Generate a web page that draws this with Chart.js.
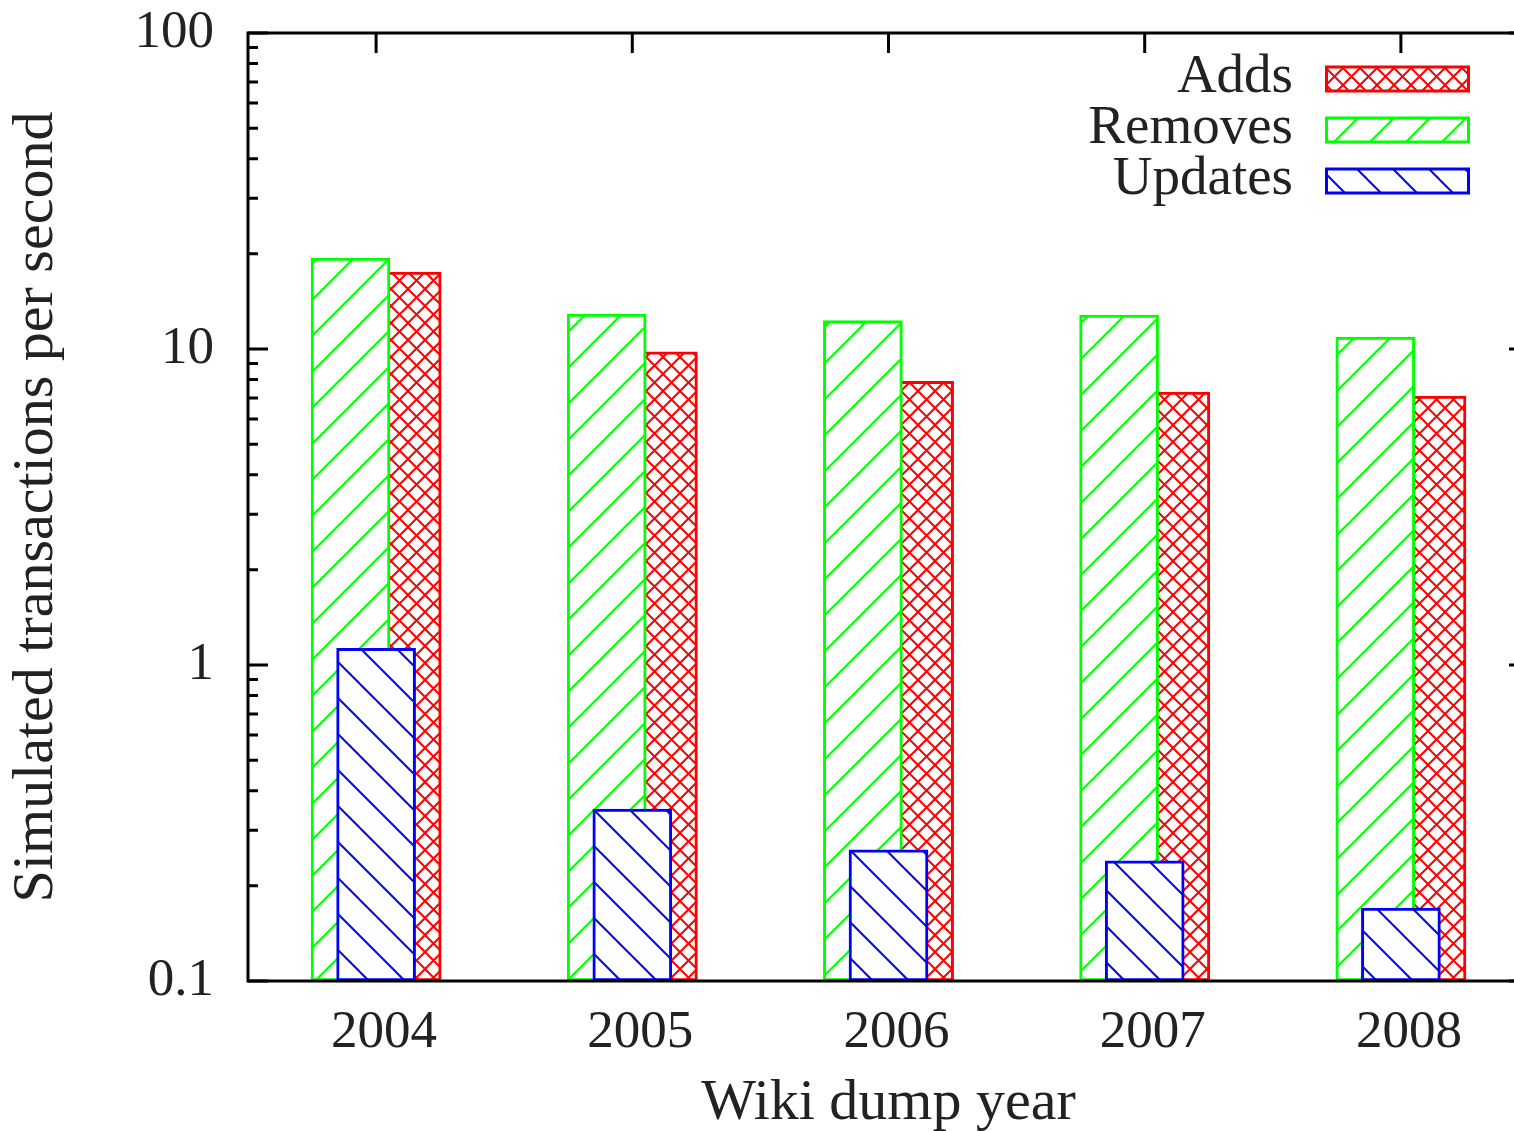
<!DOCTYPE html>
<html>
<head>
<meta charset="utf-8">
<title>Simulated transactions per second</title>
<script src="https://cdn.jsdelivr.net/npm/chart.js@4.4.1/dist/chart.umd.min.js"></script>
<style>
  html, body { margin: 0; padding: 0; overflow: hidden; background: #fff; }
  canvas { display: block; }
</style>
</head>
<body>
<canvas id="chart" width="1540" height="1131"></canvas>
<script>
// Wiki dump years and simulated transaction rates (per second)
const years = ['2004', '2005', '2006', '2007', '2008'];
const adds = [17.5, 9.8, 7.9, 7.3, 7.1];
const removes = [19.4, 12.9, 12.3, 12.8, 10.9];
const updates = [1.13, 0.35, 0.26, 0.24, 0.17];
const yMajorTicks = [0.1, 1, 10, 100];

const TEXT = '#222';
const FONT = 'Liberation Serif';

const canvas = document.getElementById('chart');
const ctx0 = canvas.getContext('2d');

// Hatch fills: white tile with diagonal strokes ('/' , '\' or both)
function hatch(color, size, dirs) {
  const t = document.createElement('canvas');
  t.width = t.height = size;
  const g = t.getContext('2d');
  g.fillStyle = '#fff';
  g.fillRect(0, 0, size, size);
  g.strokeStyle = color;
  g.lineWidth = 2;
  for (const d of dirs) {
    for (let k = -1; k <= 1; k++) {
      g.beginPath();
      if (d === '/') {
        g.moveTo(k * size - 2, size + 2);
        g.lineTo(k * size + size + 2, -2);
      } else {
        g.moveTo(k * size - 2, -2);
        g.lineTo(k * size + size + 2, size + 2);
      }
      g.stroke();
    }
  }
  return ctx0.createPattern(t, 'repeat');
}

const redFill = hatch('#ff0000', 17, ['/', '\\']);
const greenFill = hatch('#00ff00', 36, ['/']);
const blueFill = hatch('#0000ff', 36, ['\\']);

// Border, inward tics on left/right/top
const frame = {
  id: 'frame',
  afterDatasetsDraw(chart) {
    const { ctx, chartArea: a, scales: { x, y } } = chart;
    ctx.save();
    ctx.strokeStyle = '#000';
    ctx.lineWidth = 3;
    ctx.lineCap = 'butt';
    ctx.beginPath();
    y.ticks.forEach(t => {
      const v = t.value;
      const e = Math.floor(Math.log10(v) + 1e-9);
      const m = v / Math.pow(10, e);
      if (Math.abs(m - Math.round(m)) > 1e-6) return;
      const len = Math.round(m) === 1 ? 20 : 10;
      const py = y.getPixelForValue(v);
      ctx.moveTo(a.left, py); ctx.lineTo(a.left + len, py);
      ctx.moveTo(a.right, py); ctx.lineTo(a.right - len, py);
    });
    x.ticks.forEach(t => {
      const px = x.getPixelForValue(t.value);
      ctx.moveTo(px, a.top); ctx.lineTo(px, a.top + 20);
    });
    ctx.stroke();
    ctx.strokeRect(a.left, a.top, a.right - a.left, a.bottom - a.top);
    ctx.restore();
  }
};

// Key in the upper right corner: label, then hatched sample box
const key = {
  id: 'key',
  afterDraw(chart) {
    const ctx = chart.ctx;
    ctx.save();
    chart.data.datasets.forEach((ds, i) => {
      const cy = 79 + i * 51;
      ctx.fillStyle = TEXT;
      ctx.font = '55px "' + FONT + '"';
      ctx.textAlign = 'right';
      ctx.textBaseline = 'alphabetic';
      ctx.fillText(ds.label, 1293, cy + 13);
      ctx.fillStyle = ds.backgroundColor;
      ctx.fillRect(1326.5, cy - 12, 142, 24);
      ctx.strokeStyle = ds.borderColor;
      ctx.lineWidth = 3;
      ctx.strokeRect(1326.5, cy - 12, 142, 24);
    });
    ctx.restore();
  }
};

const isMajor = v => yMajorTicks.find(t => Math.abs(t - v) / t < 1e-9);

new Chart(canvas, {
  type: 'bar',
  data: {
    datasets: [
      { label: 'Adds', data: adds.map((v, i) => ({ x: i + 0.1, y: v })),
        backgroundColor: redFill, borderColor: '#ff0000', order: 2 },
      { label: 'Removes', data: removes.map((v, i) => ({ x: i - 0.1, y: v })),
        backgroundColor: greenFill, borderColor: '#00ff00', order: 1 },
      { label: 'Updates', data: updates.map((v, i) => ({ x: i, y: v })),
        backgroundColor: blueFill, borderColor: '#0000ff', order: 0 }
    ]
  },
  options: {
    responsive: false,
    animation: false,
    devicePixelRatio: 1,
    layout: { padding: { top: 33, right: 11, left: 0, bottom: 0 } },
    datasets: {
      bar: { grouped: false, barThickness: 79, borderWidth: 3, borderSkipped: false }
    },
    plugins: { legend: { display: false }, tooltip: { enabled: false } },
    scales: {
      x: {
        type: 'linear', min: -0.5, max: 4.5, offset: false,
        grid: { display: false, drawTicks: false },
        border: { display: false },
        afterBuildTicks: s => { s.ticks = years.map((_, i) => ({ value: i })); },
        ticks: {
          autoSkip: false, maxRotation: 0,
          padding: 20, labelOffset: 8, color: TEXT,
          font: { family: FONT, size: 53 },
          callback: v => years[v] ?? ''
        },
        title: {
          display: true, text: 'Wiki dump year', color: TEXT,
          font: { family: FONT, size: 58, lineHeight: 0.8 },
          padding: { top: 0, bottom: 4 }
        },
        afterFit: s => { s.height = 150; s.paddingLeft = 0; s.paddingRight = 0; }
      },
      y: {
        type: 'logarithmic', min: 0.1, max: 100,
        grid: { display: false, drawTicks: false },
        border: { display: false },
        ticks: {
          autoSkip: false, padding: 34, color: TEXT,
          font: { family: FONT, size: 53 },
          callback: v => { const m = isMajor(v); return m !== undefined ? String(m) : ''; }
        },
        title: {
          display: true, text: 'Simulated transactions per second', color: TEXT,
          font: { family: FONT, size: 58, lineHeight: 0.8 },
          padding: { top: 14, bottom: 0 }
        },
        afterFit: s => { s.width = 248; s.paddingTop = 0; s.paddingBottom = 0; }
      }
    }
  },
  plugins: [frame, key]
});
</script>
</body>
</html>
